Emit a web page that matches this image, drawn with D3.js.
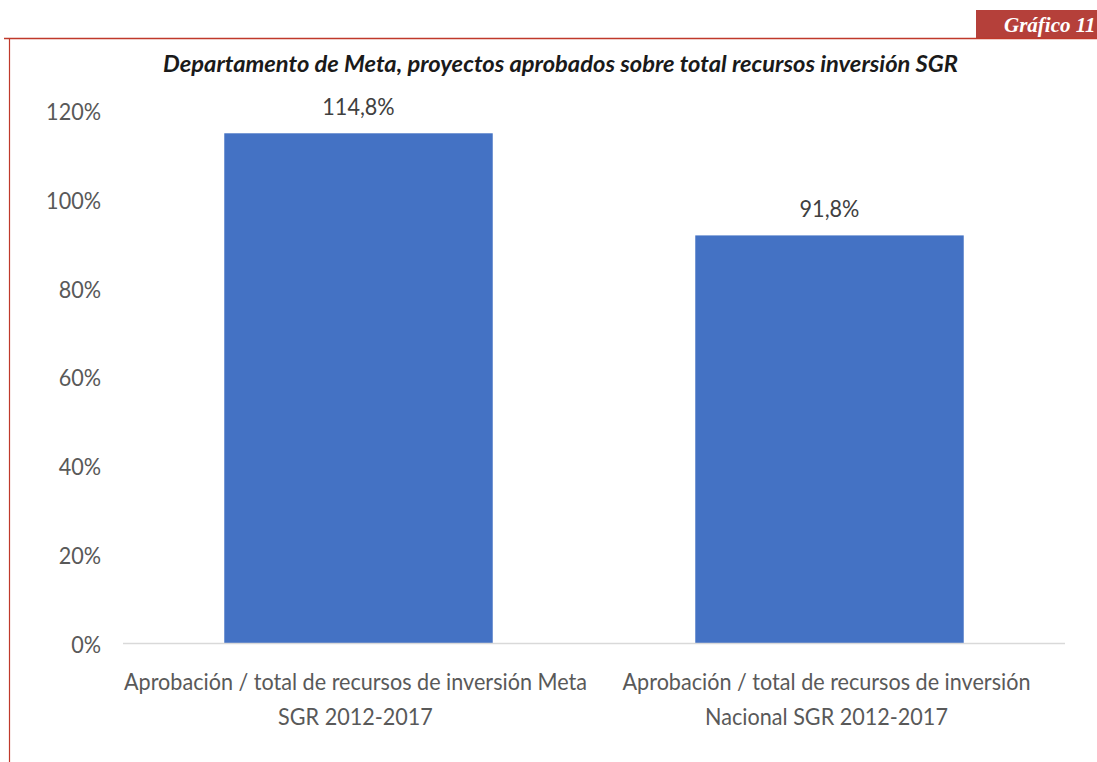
<!DOCTYPE html>
<html><head><meta charset="utf-8">
<script src="https://cdn.jsdelivr.net/npm/d3@7"></script>
<style>body{margin:0;background:#fff}svg{display:block}</style>
</head><body>
<svg id="c" width="1097" height="762"></svg>
<script>
const categories = [
  ["Aprobación / total de recursos de inversión Meta", "SGR 2012-2017"],
  ["Aprobación / total de recursos de inversión", "Nacional SGR 2012-2017"]
];
const values = [114.8, 91.8];
const valueLabels = ["114,8%", "91,8%"];
const yTicks = [0, 20, 40, 60, 80, 100, 120];
const title = "Departamento de Meta, proyectos aprobados sobre total recursos inversión SGR";
const tag = "Gráfico 11";

const svg = d3.select("#c");
const W = 1097, H = 762;
const m = {left: 123, right: 1065, bottom: 643};
const FONT = "Lato";

function condense(sel, k) {
  sel.each(function () {
    const n = this.getComputedTextLength();
    d3.select(this).attr("textLength", n * k).attr("lengthAdjust", "spacingAndGlyphs");
  });
}

// frame
svg.append("rect").attr("x", 976).attr("y", 10).attr("width", 130).attr("height", 28).attr("fill", "#b5403a");
svg.append("text").attr("x", 1004).attr("y", 32).text(tag)
  .attr("font-family", "Liberation Serif").attr("font-style", "italic").attr("font-weight", "bold")
  .attr("font-size", 21).attr("fill", "#fff");
svg.append("line").attr("x1", 4).attr("x2", W).attr("y1", 38.5).attr("y2", 38.5).attr("stroke", "#c0392b").attr("stroke-width", 1.5);
svg.append("line").attr("x1", 9.5).attr("x2", 9.5).attr("y1", 38).attr("y2", H).attr("stroke", "#c0392b").attr("stroke-width", 1.2);

svg.append("text").attr("x", 163).attr("y", 72).text(title)
  .attr("font-family", FONT).attr("font-style", "italic").attr("font-weight", "bold")
  .attr("font-size", 23).attr("fill", "#1a1a1a")
  .attr("textLength", 795).attr("lengthAdjust", "spacingAndGlyphs");

const x = d3.scaleBand().domain(d3.range(categories.length)).range([m.left, m.right]).paddingInner(0.43).paddingOuter(0.215);
const y = d3.scaleLinear().domain([0, 120]).range([m.bottom, m.bottom - 120 * 4.44]);

svg.selectAll("rect.bar").data(values).join("rect").attr("class", "bar")
  .attr("x", (d, i) => x(i)).attr("width", x.bandwidth())
  .attr("y", d => y(d)).attr("height", d => y(0) - y(d)).attr("fill", "#4472c4");

svg.append("line").attr("x1", m.left).attr("x2", m.right).attr("y1", y(0) + 0.5).attr("y2", y(0) + 0.5).attr("stroke", "#d9d9d9").attr("stroke-width", 1.5);

const xl = svg.selectAll("g.xl").data(categories).join("g").attr("class", "xl")
  .attr("transform", (d, i) => `translate(${x(i) + x.bandwidth() / 2 - 3},0)`);
const xt = xl.selectAll("text").data(d => d).join("text")
  .attr("x", 0).attr("y", (d, j) => 690 + j * 35).attr("text-anchor", "middle").text(d => d)
  .attr("font-family", FONT).attr("font-size", 23).attr("fill", "#595959");
const k = 463 / xt.node().getComputedTextLength();
condense(xt, k);

const yAxis = d3.axisLeft(y).tickValues(yTicks).tickFormat(d => d + "%").tickSize(0).tickPadding(0);
const ga = svg.append("g").attr("transform", `translate(101,0)`).call(yAxis);
ga.select(".domain").remove();
const yt = ga.selectAll("text").attr("font-family", FONT).attr("font-size", 23).attr("fill", "#595959").attr("dy", "0.4em");
condense(yt, k);

const vl = svg.selectAll("text.vl").data(values).join("text").attr("class", "vl")
  .attr("x", (d, i) => x(i) + x.bandwidth() / 2).attr("y", d => y(d) - 18)
  .attr("text-anchor", "middle").text((d, i) => valueLabels[i])
  .attr("font-family", FONT).attr("font-size", 23).attr("fill", "#404040");
condense(vl, k);
</script>
</body></html>
